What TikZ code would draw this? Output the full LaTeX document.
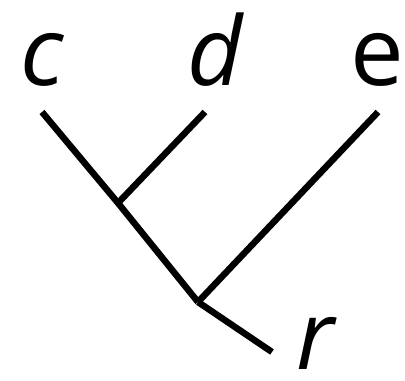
\documentclass[tikz,border=0pt]{standalone}
\usepackage{fontspec}
\setmainfont{Open Sans}
\usepackage{tikz}
\usetikzlibrary{positioning}

\begin{document}
\begin{tikzpicture}[
  x=1bp, y=-1bp,
  branch/.style={line width=6.5bp},
  leaf/.style={anchor=base, inner sep=0pt, font=\fontsize{96}{96}\selectfont}
]
\useasboundingbox (0,0) rectangle (405,381);
% leaves and root labels
\node[leaf] (c) at (42,85) {\itshape c};
\node[leaf] (d) at (215,85) {\itshape d};
\node[leaf] (e) at (377,85) {e};
\node[leaf] (r) at (315,369) {\itshape r};

% tree points
\coordinate (ctip) at (42,112);
\coordinate (dtip) at (205,112);
\coordinate (etip) at (378,112);
\coordinate (cd) at (118,203);
\coordinate (root) at (198,302);
\coordinate (rtip) at (272,352);

\draw[branch] (ctip) -- (cd) -- (root);
\draw[branch] (dtip) -- (cd);
\draw[branch] (etip) -- (root);
\draw[branch] (root) -- (rtip);
\end{tikzpicture}
\end{document}
